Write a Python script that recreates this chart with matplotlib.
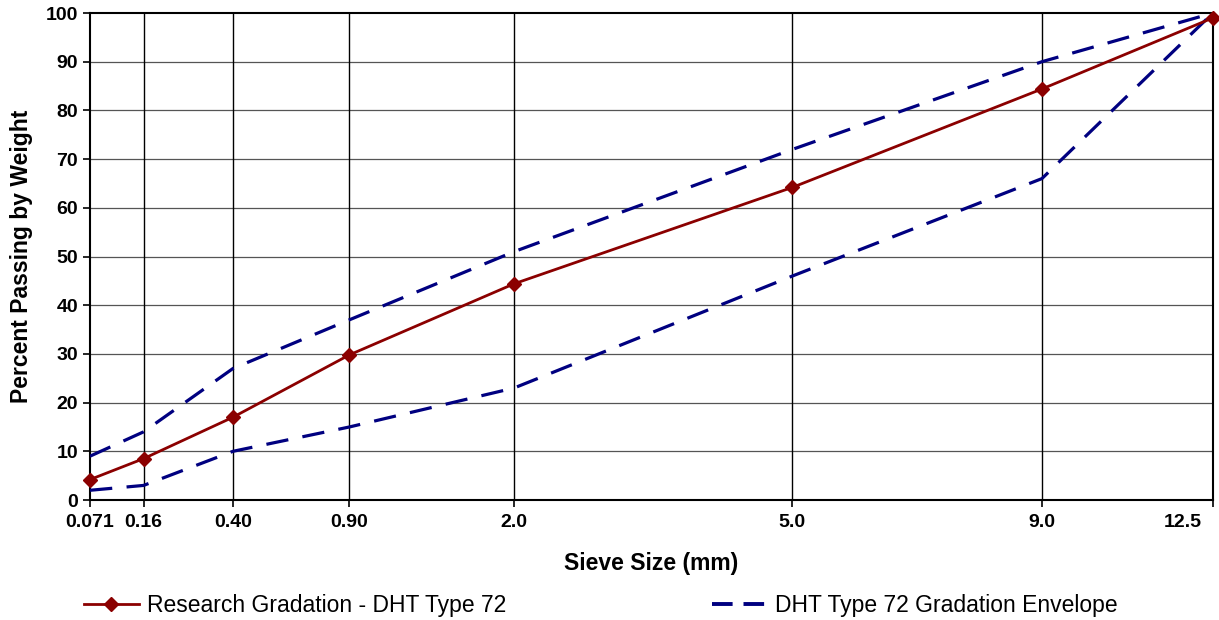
import numpy as np
import matplotlib.pyplot as plt
import matplotlib.transforms as mtransforms
from matplotlib.lines import Line2D

plt.rcParams['font.family'] = ['Liberation Sans', 'DejaVu Sans']

# --- Data ---
sieve_sizes = [0.071, 0.16, 0.40, 0.90, 2.0, 5.0, 9.0, 12.5]
sieve_labels = ["0.071", "0.16", "0.40", "0.90", "2.0", "5.0", "9.0", "12.5"]
research = [4.2, 8.5, 17.0, 29.8, 44.4, 64.2, 84.4, 99.0]
upper_env = [9.0, 14.0, 27.0, 37.0, 51.0, 72.0, 90.0, 100.0]
lower_env = [2.0, 3.0, 10.0, 15.0, 23.0, 46.0, 66.0, 100.0]

# 0.45 power gradation scale
x = np.array(sieve_sizes) ** 0.45

fig = plt.figure(figsize=(12.19, 6.2), dpi=100)
ax = fig.add_axes([0.0738, 0.1935, 0.9212, 0.7855])

ax.set_xlim(x[0], x[-1])
ax.set_ylim(0, 100)
ax.set_yticks(range(0, 101, 10))
ax.set_xticks(x)
ax.set_xticklabels(sieve_labels)

# grid: horizontal grey, vertical black
for yv in range(10, 100, 10):
    ax.axhline(yv, color='#555555', lw=0.9, zorder=1)
for xv in x[1:-1]:
    ax.axvline(xv, color='black', lw=1.0, zorder=1)

ax.plot(x, upper_env, color='#000080', lw=2.3, dashes=(7, 4.5), zorder=3)
ax.plot(x, lower_env, color='#000080', lw=2.3, dashes=(7, 4.5), zorder=3)
ax.plot(x, research, color='#8B0000', lw=2.0, marker='D', markersize=7,
        zorder=4, clip_on=False)

for s in ax.spines.values():
    s.set_linewidth(1.5)
ax.tick_params(axis='both', labelsize=14, length=5, width=1.2)
ax.tick_params(axis='x', pad=5)
for lbl in ax.get_xticklabels() + ax.get_yticklabels():
    lbl.set_fontweight('bold')

# last x label sits left of its tick, as in the original
last = ax.get_xticklabels()[-1]
last.set_horizontalalignment('right')
last.set_transform(last.get_transform() +
                   mtransforms.ScaledTranslation(-0.11, 0, fig.dpi_scale_trans))

ax.set_xlabel("Sieve Size (mm)", fontsize=16.5, fontweight='bold', labelpad=15)
ax.set_ylabel("Percent Passing by Weight", fontsize=16.5, fontweight='bold', labelpad=9)

handles = [
    Line2D([], [], color='#8B0000', lw=2.0, marker='D', markersize=7),
    Line2D([], [], color='#000080', lw=2.8, dashes=(5.3, 2.8)),
]
fig.legend(handles, ["Research Gradation - DHT Type 72", "DHT Type 72 Gradation Envelope"],
           loc='lower center', bbox_to_anchor=(0.493, -0.029), ncol=2, frameon=False,
           fontsize=16.5, columnspacing=9.0, handlelength=2.4, handletextpad=0.35)

plt.savefig("out.png", dpi=100)
